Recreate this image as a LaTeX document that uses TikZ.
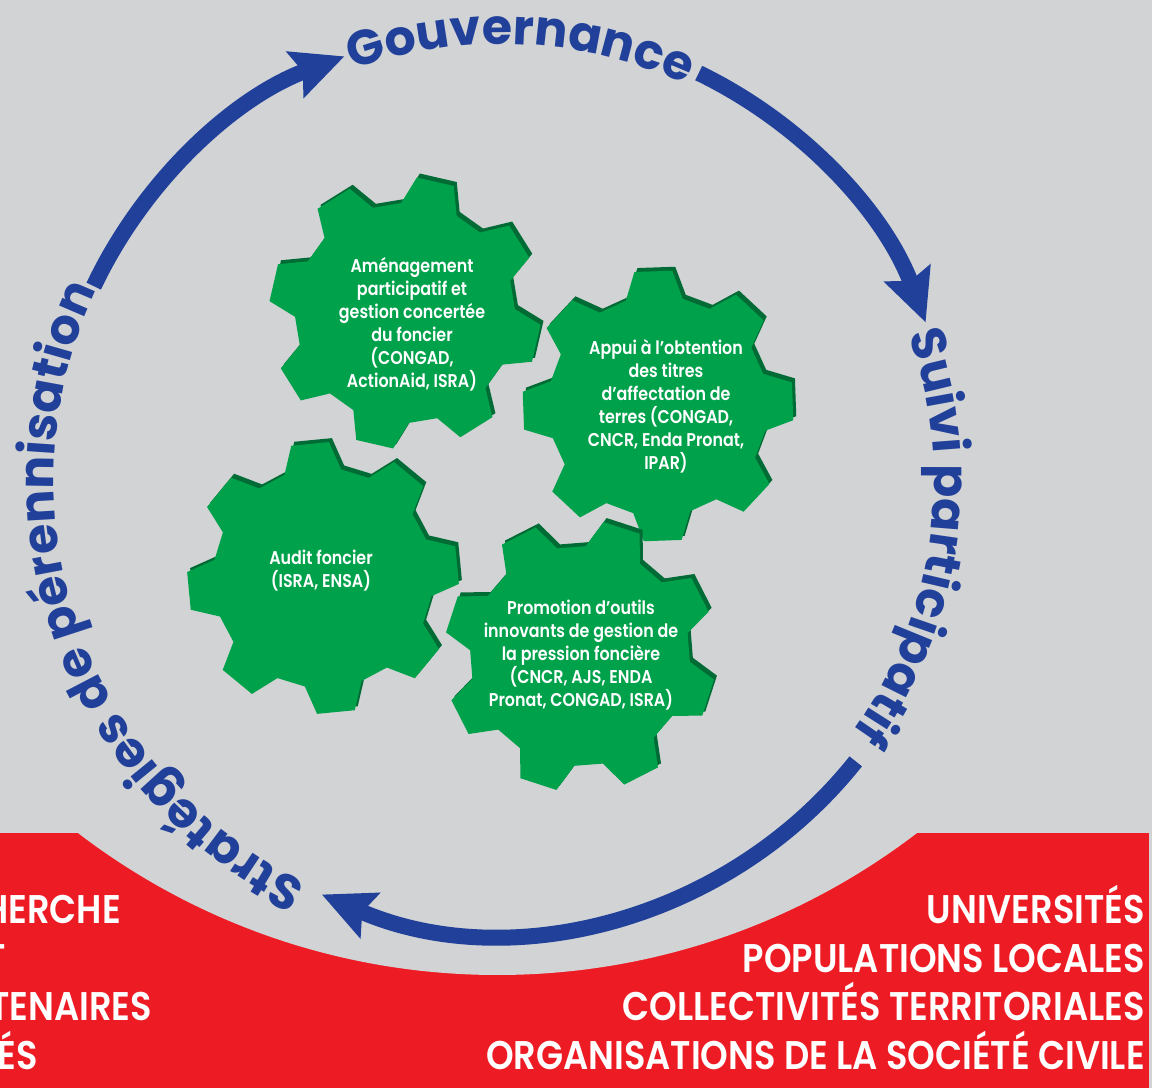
\documentclass[tikz,border=0pt]{standalone}
\usepackage{fontspec}
\usepackage{tikz}
\usetikzlibrary{arrows.meta,decorations.text,calc}

\definecolor{bggray}{HTML}{D1D3D4}
\definecolor{bandred}{HTML}{ED1C24}
\definecolor{ringblue}{HTML}{21409A}
\definecolor{geargreen}{HTML}{00A14B}
\definecolor{gearshade}{HTML}{006B35}

\newfontfamily\ringfont{Poppins Bold}
\newfontfamily\boxfont{Poppins SemiBold}[FakeStretch=0.86]
\newfontfamily\bandfont{Poppins SemiBold}[FakeStretch=0.88]

\newcommand{\gearpath}[1]{({#1-15}:110pt) \foreach \k in {0,...,7} {-- ({#1+45*\k-8}:136pt) -- ({#1+45*\k+8}:136pt) -- ({#1+45*\k+15}:110pt) -- ({#1+45*\k+30}:110pt)} -- cycle}

\begin{document}
\begin{tikzpicture}[x=1pt,y=1pt,
  ring/.style={line width=16pt, draw=ringblue, -{Stealth[length=52pt,width=48pt,inset=8pt]}},
  ringtext/.style={decorate, decoration={text along path, text align=center, text color=ringblue, text={|\ringfont\fontsize{49}{49}\selectfont|#1}}},
  gearback/.style={fill=gearshade},
  gearfront/.style={fill=geargreen},
  geartext/.style={text=white, align=center, font=\boxfont\fontsize{18.5}{23}\selectfont},
  bandtext/.style={text=white, anchor=base east, inner sep=0pt, font=\bandfont\fontsize{40}{40}\selectfont}]
\useasboundingbox (0,0) rectangle (1152,1088);
\fill[bggray] (0,0) rectangle (1152,1088);
\fill[bandred] (0,0) rectangle (1149,255);
\fill[bggray] (497.5,803.6) circle[radius=690.6pt];

\coordinate (C) at (502,608);
\draw[ring] ($(C)+(154.6:452pt)$) arc[start angle=154.6, end angle=110.4, radius=452pt];
\draw[ring] ($(C)+(64.2:452pt)$) arc[start angle=64.2, end angle=20.4, radius=452pt];
\draw[ring] ($(C)+(-38.5:452pt)$) arc[start angle=-38.5, end angle=-113.5, radius=452pt];
\path[ringtext=Gouvernance] ($(C)+(132:436pt)$) arc[start angle=132, end angle=43, radius=436pt];
\path[ringtext=Suivi participatif] ($(C)+(40:432pt)$) arc[start angle=40, end angle=-56, radius=432pt];
\path[ringtext=Stratégies de pérennisation] ($(C)+(260:448pt)$) arc[start angle=260, end angle=139, radius=448pt];

\begin{scope}[shift={(405,775)}]
\fill[gearback, shift={(3,4)}] \gearpath{32};
\fill[gearfront] \gearpath{32};
\end{scope}
\begin{scope}[shift={(658,682)}]
\fill[gearback, shift={(3,4)}] \gearpath{2};
\fill[gearfront] \gearpath{2};
\end{scope}
\begin{scope}[shift={(323,510)}]
\fill[gearback, shift={(3,4)}] \gearpath{5.5};
\fill[gearfront] \gearpath{5.5};
\end{scope}
\begin{scope}[shift={(580,432)}]
\fill[gearback, shift={(3,4)}] \gearpath{27};
\fill[gearfront] \gearpath{27};
\end{scope}

\node[geartext] (T1) at (412,764) {Aménagement\\participatif et\\gestion concertée\\du foncier\\(CONGAD,\\ActionAid, ISRA)};
\node[geartext] (T2) at (666,682) {Appui à l’obtention\\des titres\\d’affectation de\\terres (CONGAD,\\CNCR, Enda Pronat,\\IPAR)};
\node[geartext] (T3) at (321,517) {Audit foncier\\(ISRA, ENSA)};
\node[geartext] (T4) at (581,433) {Promotion d’outils\\innovants de gestion de\\la pression foncière\\(CNCR, AJS, ENDA\\Pronat, CONGAD, ISRA)};

\node[bandtext] (U1) at (1145,164) {UNIVERSITÉS};
\node[bandtext] (U2) at (1145,116) {POPULATIONS LOCALES};
\node[bandtext] (U3) at (1145,68) {COLLECTIVITÉS TERRITORIALES};
\node[bandtext] (U4) at (1145,19) {ORGANISATIONS DE LA SOCIÉTÉ CIVILE};
\node[bandtext] (L1) at (121,164) {HERCHE};
\node[bandtext] (L2) at (6,116) {T};
\node[bandtext] (L3) at (152,68) {TENAIRES};
\node[bandtext] (L4) at (38,19) {ÉS};
\end{tikzpicture}
\end{document}
